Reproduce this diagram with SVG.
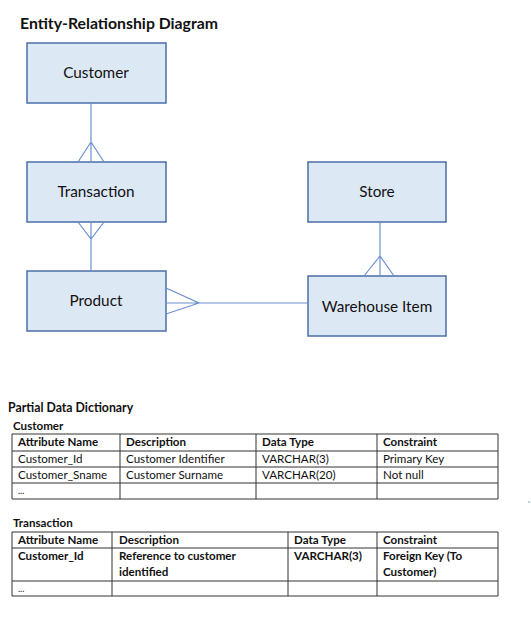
<svg xmlns="http://www.w3.org/2000/svg" width="531" height="619" viewBox="0 0 531 619">
<style>
text{font-family:Lato,"Liberation Sans",sans-serif;fill:#111}
.title{font-size:15.8px;font-weight:bold}
.ent rect{fill:#dde8f5;stroke:#4a6fa8;stroke-width:1.5}
.ent text{font-size:15.3px;text-anchor:middle}
.conn{stroke:#6b8fd0;stroke-width:1.2;fill:none}
.h{font-size:12.3px;font-weight:bold}
.t{font-size:11.6px}
.b{font-weight:bold}
.e{font-size:9px}
.grid{stroke:#333;stroke-width:1;fill:none}
</style>
<rect width="531" height="619" fill="#fff"/>
<text class="title" x="20" y="29">Entity-Relationship Diagram</text>

<g id="customer" class="ent"><rect x="27" y="43" width="139" height="60"/><text x="96" y="78">Customer</text></g>
<g id="transaction" class="ent"><rect x="27" y="162" width="139" height="60"/><text x="96" y="197">Transaction</text></g>
<g id="product" class="ent"><rect x="27" y="271" width="139" height="60"/><text x="96" y="306">Product</text></g>
<g id="store" class="ent"><rect x="308" y="162" width="138" height="60"/><text x="377" y="197">Store</text></g>
<g id="warehouse" class="ent"><rect x="308" y="276" width="138" height="60"/><text x="377" y="312">Warehouse Item</text></g>

<g id="connectors" class="conn">
<path d="M91 103V162M78 162L91 142L104 162"/>
<path d="M91 222V271M78 222L91 239L104 222"/>
<path d="M166 303H308M166 288L199 303L166 314"/>
<path d="M380 222V276M364 276L380 256L394 276"/>
</g>

<text class="h" x="8" y="412">Partial Data Dictionary</text>
<text class="t b" x="13" y="430">Customer</text>
<g id="table-customer">
<path class="grid" d="M12 434H498M12 451H498M12 467H498M12 483H498M12 499H498M12 434V499M120 434V499M256 434V499M377 434V499M498 434V499"/>
<g class="t">
<text x="18" y="446" class="b">Attribute Name</text><text x="126" y="446" class="b">Description</text><text x="262" y="446" class="b">Data Type</text><text x="383" y="446" class="b">Constraint</text>
<text x="18" y="463">Customer_Id</text><text x="126" y="463">Customer Identifier</text><text x="262" y="463">VARCHAR(3)</text><text x="383" y="463">Primary Key</text>
<text x="18" y="479">Customer_Sname</text><text x="126" y="479">Customer Surname</text><text x="262" y="479">VARCHAR(20)</text><text x="383" y="479">Not null</text>
<text x="18" y="494" class="e">...</text>
</g>
</g>
<circle cx="529" cy="502" r="0.8" fill="#6b8fd0"/>

<text class="t b" x="13" y="527">Transaction</text>
<g id="table-transaction">
<path class="grid" d="M12 532H498M12 548H498M12 581H498M12 596H498M12 532V596M112 532V596M288 532V596M377 532V596M498 532V596"/>
<g class="t b">
<text x="18" y="544">Attribute Name</text><text x="119" y="544">Description</text><text x="294" y="544">Data Type</text><text x="383" y="544">Constraint</text>
<text x="18" y="560">Customer_Id</text><text x="119" y="560">Reference to customer</text><text x="119" y="576">identified</text><text x="294" y="560">VARCHAR(3)</text><text x="383" y="560">Foreign Key (To</text><text x="383" y="576">Customer)</text>
</g>
<text class="t e" x="18" y="592">...</text>
</g>
</svg>
